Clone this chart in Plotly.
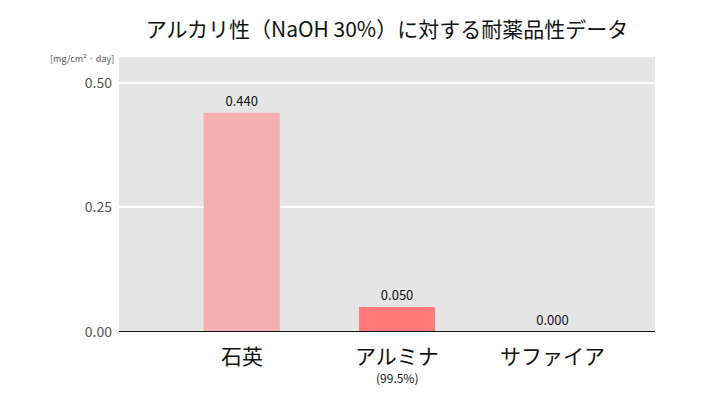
import plotly.graph_objects as go

categories = ["石英", "アルミナ", "サファイア"]
sub_labels = ["", "(99.5%)", ""]
values = [0.440, 0.050, 0.000]
value_labels = ["0.440", "0.050", "0.000"]
bar_colors = ["#F4B0B0", "#FF7B7B", "#FF7B7B"]
y_ticks = [0.0, 0.25, 0.5]
y_tick_labels = ["0.00", "0.25", "0.50"]
title = "アルカリ性（NaOH 30%）に対する耐薬品性データ"
unit = "[mg/cm² · day]"

FONT = "Noto Sans CJK JP, Noto Sans, sans-serif"
xs = list(range(len(categories)))

fig = go.Figure()
fig.add_trace(go.Bar(
    x=xs, y=values, width=0.49,
    marker=dict(color=bar_colors, line=dict(width=0)),
    text=value_labels, textposition="outside",
    textfont=dict(size=13, color="#111", family=FONT),
    cliponaxis=False,
))

for x, c, s in zip(xs, categories, sub_labels):
    fig.add_annotation(x=x, y=0, xref="x", yref="y", text=c, showarrow=False,
                       yanchor="top", yshift=-6, font=dict(size=21, color="#111", family=FONT))
    if s:
        fig.add_annotation(x=x, y=0, xref="x", yref="y", text=s, showarrow=False,
                           yanchor="top", yshift=-35, font=dict(size=12, color="#111", family=FONT))

fig.add_annotation(x=0, y=1, xref="paper", yref="paper", text=unit, showarrow=False,
                   xanchor="right", yanchor="bottom", xshift=-3, yshift=-10,
                   font=dict(size=9, color="#555", family=FONT))

fig.add_shape(type="line", xref="paper", yref="y", x0=0, x1=1, y0=0, y1=0,
              line=dict(color="#111", width=2))

fig.update_layout(
    width=704, height=400,
    margin=dict(l=111, r=57, t=49, b=76),
    paper_bgcolor="white", plot_bgcolor="#E5E5E5",
    title=dict(text=title, x=0.5, xanchor="center", xref="paper", y=0.945, yanchor="middle",
               font=dict(size=21, color="#111", family=FONT)),
    showlegend=False,
    font=dict(family=FONT),
    bargap=0.5,
)
fig.update_xaxes(range=[-0.79, 2.66], showticklabels=False, showgrid=False, zeroline=False, ticks="")
fig.update_yaxes(range=[0, 0.552], tickvals=y_ticks, ticktext=y_tick_labels,
                 showgrid=True, gridcolor="white", gridwidth=1.5, zeroline=False,
                 tickfont=dict(size=14, color="#555", family=FONT), ticks="", ticklabelstandoff=6)

fig.write_html("out.html")
